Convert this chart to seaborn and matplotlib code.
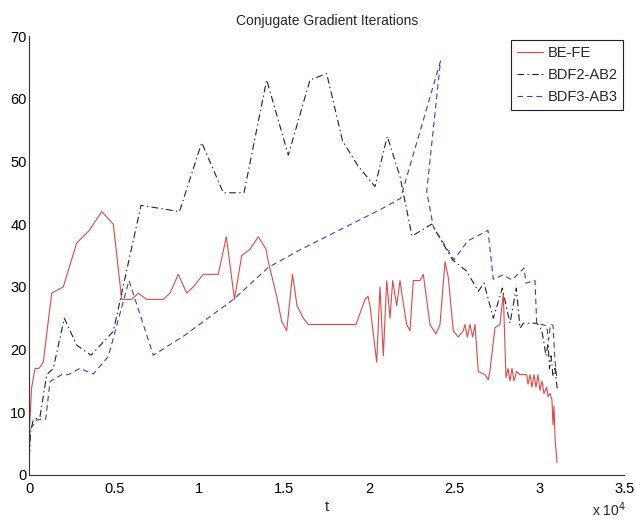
import matplotlib
matplotlib.use("Agg")
import matplotlib.pyplot as plt
import seaborn as sns
import pandas as pd

# ---- data ----
red_t = [0, 141, 335, 570, 823, 1317, 2000, 2788, 3529, 4259,
         4941, 5435, 6023, 6412, 6906, 7882, 8276, 8764, 9258, 9647,
         10235, 11117, 11588, 12070, 12494, 12982, 13470, 13923, 14058, 14552,
         14846, 15140, 15482, 15746, 16117, 16411, 18864, 19217, 19746, 19923,
         20040, 20434, 20629, 20823, 21023, 21217, 21376, 21611, 21805, 21964,
         22199, 22393, 22587, 22981, 23175, 23570, 23922, 24158, 24452, 24646,
         24940, 25234, 25528, 25628, 25764, 25922, 26081, 26217, 26411, 26805,
         27000, 27099, 27393, 27687, 27881, 28040, 28158, 28275, 28393, 28510,
         28669, 28863, 29257, 29334, 29452, 29569, 29687, 29805, 29922, 30040,
         30157, 30275, 30434, 30510, 30628, 30746, 30804, 30863, 30922, 31040]
red_y = [7, 14, 17, 17, 18, 29, 30, 37, 39, 42,
         40, 28, 28, 29, 28, 28, 29, 32, 29, 30,
         32, 32, 38, 28, 35, 36, 38, 36, 34, 28.5,
         24.5, 23, 32, 27, 25, 24, 24, 24, 28, 28.5,
         27, 18, 30, 19, 31, 25, 31, 27, 31, 28,
         24, 23, 31, 31, 32, 24, 22.5, 24, 34, 31.5,
         23, 22, 23, 24, 22, 24, 22, 24, 16.5, 16,
         15.2, 16.7, 23.5, 24, 29, 15.5, 17, 15, 17, 15,
         16.5, 16, 16, 14.5, 16, 14, 16, 14, 16, 13.5,
         15, 13, 14, 12.5, 13, 12, 8, 11, 6, 2]

bk_t = [0, 80, 235, 629, 1024, 1412, 2059, 2788, 3629, 4941,
        6570, 8835, 10141, 11412, 12629, 13964, 15235, 16512, 17494, 18423,
        19306, 20335, 21059, 21806, 22512, 23670, 24894, 25729, 26412, 26747,
        27294, 27824, 28276, 28647, 28865, 29059, 29865, 30141, 30247, 30394,
        30512, 30600, 30688, 30806, 30923, 31071]
bk_y = [3, 7, 8.8, 9.3, 16, 17, 25, 20.7, 19.1, 22.9,
        43, 42, 53, 45, 45, 63, 51, 63, 64, 53.3,
        49.4, 46, 54, 47.6, 38.1, 40, 34.3, 32.5, 29.3, 30.6,
        25, 29.8, 24.2, 29.8, 23.4, 24.2, 24.2, 23.1, 21.5, 19,
        21, 17, 19, 15.7, 17, 13.3]

bl_t = [0, 41, 435, 965, 1218, 1906, 2294, 2982, 3765, 4647,
        5865, 7294, 9159, 12100, 14059, 15924, 20629, 21835, 24188, 23376,
        23765, 24982, 25776, 26982, 27294, 27864, 28394, 29100, 29218, 29747,
        29847, 30435, 30541, 30659, 30806, 30865, 30923, 31041]
bl_y = [2.9, 7.2, 8.8, 8.9, 14.9, 16, 16, 17, 16.1, 18.9,
        31, 19.1, 22.3, 28.2, 33.1, 35.9, 42.3, 44.1, 66, 45.2,
        39.6, 34.3, 37.3, 39, 31.2, 31.9, 31.1, 33, 30.6, 31,
        24.2, 23.8, 21.5, 24, 23.9, 21, 18.3, 15.2]

series_names = ["BE-FE", "BDF2-AB2", "BDF3-AB3"]
x_ticks = [0, 5000, 10000, 15000, 20000, 25000, 30000, 35000]
x_tick_labels = ["0", "0.5", "1", "1.5", "2", "2.5", "3", "3.5"]
y_ticks = [0, 10, 20, 30, 40, 50, 60, 70]

# ---- style ----
sns.set_style("white")
plt.rcParams["font.family"] = ["Liberation Sans", "DejaVu Sans"]
plt.rcParams["font.size"] = 10

fig = plt.figure(figsize=(6.36, 5.19), dpi=100)
ax = fig.add_axes([29.3 / 636, 44 / 519, 595 / 636, 439 / 519])

df_r = pd.DataFrame({"t": red_t, "v": red_y})
df_k = pd.DataFrame({"t": bk_t, "v": bk_y})
df_b = pd.DataFrame({"t": bl_t, "v": bl_y})

sns.lineplot(data=df_r, x="t", y="v", ax=ax, sort=False, estimator=None,
             color="#e04848", linewidth=0.8, label=series_names[0])
sns.lineplot(data=df_k, x="t", y="v", ax=ax, sort=False, estimator=None,
             color="#222222", linewidth=0.8, linestyle=(0, (6, 3, 1.2, 3)),
             label=series_names[1])
sns.lineplot(data=df_b, x="t", y="v", ax=ax, sort=False, estimator=None,
             color="#3a3ad8", linewidth=0.8, linestyle=(0, (5, 3.5)),
             label=series_names[2])

ax.set_xlim(0, 35000)
ax.set_ylim(0, 70)
ax.set_xticks(x_ticks)
ax.set_xticklabels(x_tick_labels)
ax.set_yticks(y_ticks)
ax.tick_params(direction="in", length=5, width=0.8, colors="#222222",
               labelcolor="black", labelsize=10.5)
ax.tick_params(axis="x", pad=5)
ax.tick_params(axis="y", pad=2)
for s in ["top", "right"]:
    ax.spines[s].set_visible(False)
for s in ["left", "bottom"]:
    ax.spines[s].set_color("#333333")
    ax.spines[s].set_linewidth(0.8)

ax.set_xlabel("t", fontsize=10.5, labelpad=3)
ax.set_ylabel("")
ax.set_title("Conjugate Gradient Iterations", fontsize=10, pad=8)
fig.text(592 / 636, 1 - 510 / 519, "x 10$^{4}$", fontsize=10, ha="left",
         va="center")

leg = ax.legend(loc="upper right", bbox_to_anchor=(623.3 / 636, 1 - 40 / 519),
                bbox_transform=fig.transFigure, borderaxespad=0,
                fancybox=False, framealpha=1, edgecolor="#222222",
                handlelength=1.8, handletextpad=0.3, labelspacing=0.55,
                borderpad=0.4, fontsize=10.5)
leg.get_frame().set_linewidth(0.8)

fig.savefig("out.png", dpi=100)
